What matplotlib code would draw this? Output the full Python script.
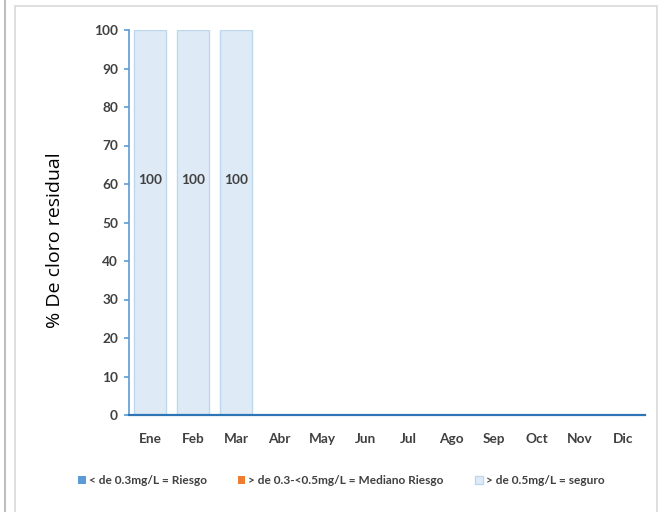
import matplotlib.pyplot as plt
from matplotlib.lines import Line2D
from matplotlib.patches import Rectangle
import numpy as np

months = ["Ene", "Feb", "Mar", "Abr", "May", "Jun", "Jul", "Ago", "Sep", "Oct", "Nov", "Dic"]
riesgo = [0, 0, 0, 0, 0, 0, 0, 0, 0, 0, 0, 0]
mediano = [0, 0, 0, 0, 0, 0, 0, 0, 0, 0, 0, 0]
seguro = [100, 100, 100, 0, 0, 0, 0, 0, 0, 0, 0, 0]
labels = ["< de 0.3mg/L = Riesgo", "> de 0.3-<0.5mg/L = Mediano Riesgo", "> de 0.5mg/L = seguro"]

FONT = ["Lato", "DejaVu Sans"]
TEXT_C = "#404040"

fig = plt.figure(figsize=(6.64, 5.12), dpi=100)
ax = fig.add_axes([128.5 / 664, 1 - 415 / 512, 516 / 664, 385 / 512])

# outer frames of the original sheet
fig.add_artist(Line2D([5 / 664, 5 / 664], [0, 1], color="#BFBFBF", lw=1.5))
fig.add_artist(Rectangle((15 / 664, -0.05), 642 / 664, 1.05 - 5.5 / 512, fill=False,
                         edgecolor="#D9D9D9", lw=1.2, transform=fig.transFigure))

x = np.arange(len(months))
w = 0.76
ax.bar(x, riesgo, w, color="#5B9BD5")
ax.bar(x, mediano, w, bottom=riesgo, color="#ED7D31")
base = np.array(riesgo) + np.array(mediano)
ax.bar(x, seguro, w, bottom=base, color="#DEEBF7", edgecolor="#BDD7EE", linewidth=1)

# value labels inside the non-empty bars
for xi, v in zip(x, seguro):
    if v > 0:
        ax.text(xi, 61, f"{v}", ha="center", va="center", fontsize=9.8,
                fontweight="bold", family=FONT, color=TEXT_C)

ax.set_xlim(-0.5, len(months) - 0.5)
ax.set_ylim(0, 100)
ax.set_yticks(range(0, 101, 10))
ax.set_xticks(x)
ax.set_xticklabels(months)

for s in ["top", "right"]:
    ax.spines[s].set_visible(False)
ax.spines["left"].set_color("#5B9BD5")
ax.spines["left"].set_linewidth(1.2)
ax.spines["bottom"].set_color("#2E75B6")
ax.spines["bottom"].set_linewidth(1.6)

ax.tick_params(axis="y", colors="#5B9BD5", length=3.5, width=1.2, labelcolor=TEXT_C, pad=4)
ax.tick_params(axis="x", length=0, pad=13, labelcolor=TEXT_C)
for t in ax.get_xticklabels() + ax.get_yticklabels():
    t.set_family(FONT)
    t.set_fontweight("bold")
    t.set_fontsize(9.8)

fig.text(55 / 664, 1 - 240 / 512, "% De cloro residual", rotation=90, ha="center", va="center",
         fontsize=14, family="Open Sans", color="black")

handles = [
    Rectangle((0, 0), 1, 1, facecolor="#5B9BD5"),
    Rectangle((0, 0), 1, 1, facecolor="#ED7D31"),
    Rectangle((0, 0), 1, 1, facecolor="#DEEBF7", edgecolor="#BDD7EE"),
]
leg = fig.legend(handles, labels, loc="center", bbox_to_anchor=(341 / 664, 1 - 481 / 512), ncol=3,
                 frameon=False, handlelength=0.65, handleheight=0.65, handletextpad=0.25,
                 columnspacing=2.6, borderpad=0, prop={"family": FONT, "weight": "bold", "size": 8.6})
for t in leg.get_texts():
    t.set_color(TEXT_C)

fig.savefig("out.png", dpi=100)
